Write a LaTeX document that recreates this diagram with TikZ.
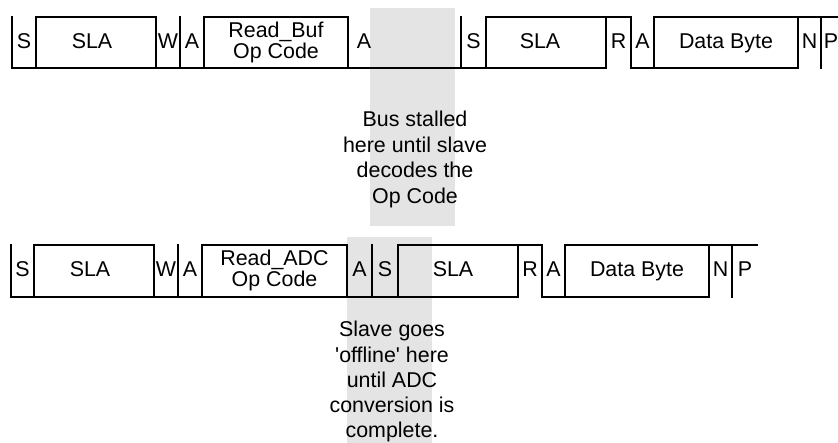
\documentclass[tikz,border=0pt]{standalone}
\usepackage{fontspec}
\setmainfont{Liberation Sans}
\definecolor{stall}{HTML}{E4E4E4}
\begin{document}
\begin{tikzpicture}[x=1pt,y=-1pt,
  wave/.style={line width=1.5pt, line cap=rect, black},
  lbl/.style={inner sep=0pt, anchor=base, font=\fontsize{21.4}{25}\selectfont},
  note/.style={inner sep=0pt, anchor=base, font=\fontsize{21.4}{25}\selectfont}]
\useasboundingbox (0,0) rectangle (838,443);
% stall shading
\fill[stall] (370,8) rectangle (455,226);
\fill[stall] (347,237) rectangle (432,443);
% ---- top row waveform
\draw[wave] (12,68) -- (606,68);
\draw[wave] (631,68) -- (798,68);
\draw[wave] (36,17) -- (156,17);
\draw[wave] (204,17) -- (348,17);
\draw[wave] (486,17) -- (631,17);
\draw[wave] (654,17) -- (838,17);
\foreach \x in {12,36,156,180,204,348,461,486,606,631,654,798,821}
  \draw[wave] (\x,17) -- (\x,68);
% ---- bottom row waveform
\draw[wave] (11,297) -- (518,297);
\draw[wave] (542,297) -- (709,297);
\draw[wave] (34,245) -- (154,245);
\draw[wave] (202,245) -- (347,245);
\draw[wave] (398,245) -- (542,245);
\draw[wave] (565,245) -- (757,245);
\foreach \x in {11,34,154,178,202,347,372,398,518,542,565,709,732}
  \draw[wave] (\x,245) -- (\x,297);
% ---- top row labels
\node[lbl] (t1) at (24,49) {S};
\node[lbl] (t2) at (92,49) {SLA};
\node[lbl] (t3) at (168,49) {W};
\node[lbl] (t4) at (192,49) {A};
\node[lbl] (t5a) at (276,38) {Read\_Buf};
\node[lbl] (t5b) at (276,59) {Op Code};
\node[lbl] (t6) at (364,49) {A};
\node[lbl] (t7) at (473.5,49) {S};
\node[lbl] (t8) at (540,49) {SLA};
\node[lbl] (t9) at (618.5,49) {R};
\node[lbl] (t10) at (642.5,49) {A};
\node[lbl] (t11) at (726,49) {Data Byte};
\node[lbl] (t12) at (809.5,49) {N};
\node[lbl] (t13) at (831,49) {P};
% ---- bottom row labels
\node[lbl] (b1) at (22.5,277) {S};
\node[lbl] (b2) at (90,277) {SLA};
\node[lbl] (b3) at (166,277) {W};
\node[lbl] (b4) at (190,277) {A};
\node[lbl] (b5a) at (274.5,266) {Read\_ADC};
\node[lbl] (b5b) at (274.5,287) {Op Code};
\node[lbl] (b6) at (359.5,277) {A};
\node[lbl] (b7) at (385,277) {S};
\node[lbl] (b8) at (453,277) {SLA};
\node[lbl] (b9) at (530,277) {R};
\node[lbl] (b10) at (553.5,277) {A};
\node[lbl] (b11) at (637,277) {Data Byte};
\node[lbl] (b12) at (720.5,277) {N};
\node[lbl] (b13) at (745,277) {P};
% ---- notes
\node[note] (n1) at (415,127) {Bus stalled};
\node[note] (n2) at (415,152.4) {here until slave};
\node[note] (n3) at (415,177.8) {decodes the};
\node[note] (n4) at (415,203.2) {Op Code};
\node[note] (m1) at (392,337) {Slave goes};
\node[note] (m2) at (392,362.3) {\textquotesingle offline\textquotesingle{} here};
\node[note] (m3) at (392,387.5) {until ADC};
\node[note] (m4) at (392,412.8) {conversion is};
\node[note] (m5) at (392,438) {complete.};
\end{tikzpicture}
\end{document}
